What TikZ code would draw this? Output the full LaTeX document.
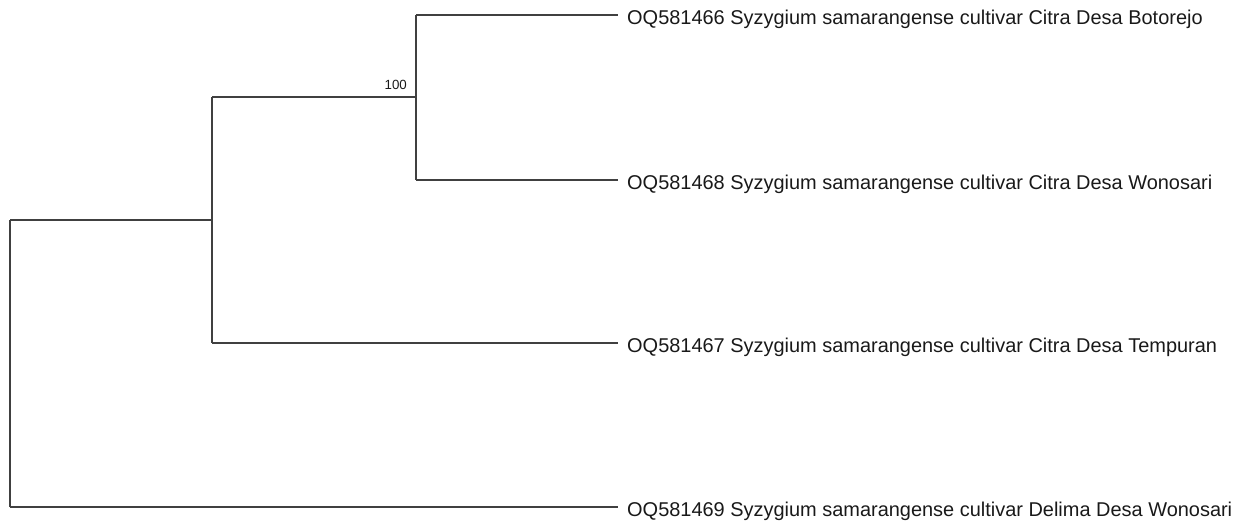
\documentclass[tikz,border=0pt]{standalone}
\usepackage{fontspec}
\setmainfont{Liberation Sans}
\begin{document}
\begin{tikzpicture}[x=1pt,y=-1pt,
  branch/.style={draw=black!75, line width=1.3pt},
  taxon/.style={anchor=base west, inner sep=0pt, font=\fontsize{19.95}{22}\selectfont, text=black!90},
  boot/.style={anchor=south east, inner sep=0pt, font=\fontsize{13.3}{15}\selectfont, text=black!90}]
\useasboundingbox (0,0) rectangle (1246,520);
% internal nodes
\coordinate (root) at (10,220);
\coordinate (n1) at (212,220);
\coordinate (n2) at (416,97);
% tips
\coordinate (t1) at (618,15);
\coordinate (t2) at (618,180);
\coordinate (t3) at (618,343);
\coordinate (t4) at (618,507);
% branches
\draw[branch] (root) -- (n1);
\draw[branch] (root |- t4) -- (root |- n1) ;
\draw[branch] (root |- t4) -- (t4);
\draw[branch] (n1 |- n2) -- (n1 |- t3);
\draw[branch] (n1 |- n2) -- (n2);
\draw[branch] (n1 |- t3) -- (t3);
\draw[branch] (n2 |- t1) -- (n2 |- t2);
\draw[branch] (n2 |- t1) -- (t1);
\draw[branch] (n2 |- t2) -- (t2);
% labels
\node[taxon] (l1) at ([xshift=9pt,yshift=-9pt]t1) {OQ581466 Syzygium samarangense cultivar Citra Desa Botorejo};
\node[taxon] (l2) at ([xshift=9pt,yshift=-9pt]t2) {OQ581468 Syzygium samarangense cultivar Citra Desa Wonosari};
\node[taxon] (l3) at ([xshift=9pt,yshift=-9pt]t3) {OQ581467 Syzygium samarangense cultivar Citra Desa Tempuran};
\node[taxon] (l4) at ([xshift=9pt,yshift=-9pt]t4) {OQ581469 Syzygium samarangense cultivar Delima Desa Wonosari};
\node[boot] (b1) at ([xshift=-9pt,yshift=7pt]n2) {100};
\end{tikzpicture}
\end{document}
